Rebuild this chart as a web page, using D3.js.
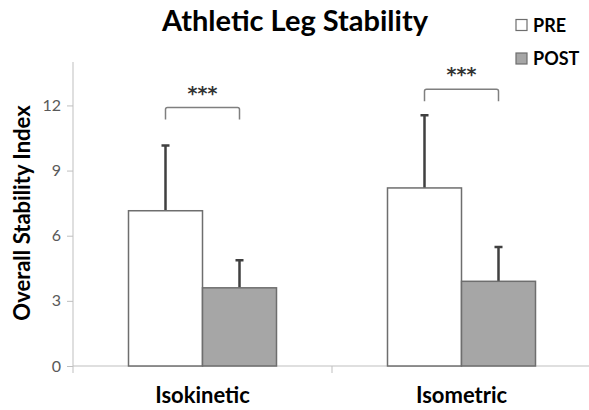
<!DOCTYPE html>
<html>
<head>
<meta charset="utf-8">
<script src="https://cdn.jsdelivr.net/npm/d3@7"></script>
<style>
  body { margin: 0; background: #fff; }
  text { font-family: Lato, "Open Sans", sans-serif; }
</style>
</head>
<body>
<div id="chart"></div>
<script>
// values
const categories = ["Isokinetic", "Isometric"];
const groups = ["PRE", "POST"];
const preMeans = [7.15, 8.2];
const preErr = [3.0, 3.35];
const postMeans = [3.6, 3.9];
const postErr = [1.27, 1.58];
const bracketLevels = [11.9, 12.75];
const yTicks = [0, 3, 6, 9, 12];

function render_chart(placement) {
    var margin = {top: 62, right: -2, bottom: 44, left: 73},
        width = 589 - margin.left - margin.right,
        height = 410 - margin.top - margin.bottom;

    const data = categories.map((c, i) => ({
        category: c,
        values: [
            {group: "PRE", mean: preMeans[i], err: preErr[i]},
            {group: "POST", mean: postMeans[i], err: postErr[i]}
        ],
        bracket: bracketLevels[i]
    }));

    var x0 = d3.scaleBand()
        .domain(categories)
        .range([0, width])
        .paddingInner(0)
        .paddingOuter(0);

    var x1 = d3.scaleBand()
        .domain(groups)
        .range([0, x0.bandwidth()])
        .paddingInner(0)
        .paddingOuter(0.75);

    var yScale = d3.scaleLinear()
        .domain([0, 14])
        .range([height, 0]);

    const color = d3.scaleOrdinal()
        .domain(groups)
        .range(["#ffffff", "#a6a6a6"]);

    var svg = d3.select(placement).append("svg")
        .attr("width", 589)
        .attr("height", 410);

    // title
    svg.append("text")
        .attr("x", 295)
        .attr("y", 31)
        .attr("text-anchor", "middle")
        .style("font-size", "29px")
        .style("font-weight", "bold")
        .attr("fill", "#000")
        .text("Athletic Leg Stability");

    var g = svg.append("g")
        .attr("transform", "translate(" + margin.left + "," + margin.top + ")");

    // y axis
    var yAxis = d3.axisLeft(yScale)
        .tickValues(yTicks)
        .tickSize(6)
        .tickPadding(6);

    const yg = g.append("g").call(yAxis);
    yg.select(".domain").attr("stroke", "#bfbfbf").attr("d", "M0,0V" + (height + 7));
    yg.selectAll(".tick line").attr("stroke", "#bfbfbf");
    yg.selectAll(".tick text")
        .attr("fill", "#595959")
        .style("font-size", "16px")
        .style("font-family", "Lato, sans-serif");

    // x axis
    var xAxis = d3.axisBottom(x0)
        .tickSize(0)
        .tickPadding(21);

    const xg = g.append("g")
        .attr("transform", "translate(0," + height + ")")
        .call(xAxis);
    xg.select(".domain").attr("stroke", "#bfbfbf").attr("d", "M0,0H" + (width + 2));
    xg.selectAll(".tick text")
        .attr("fill", "#000")
        .style("font-size", "22px")
        .style("font-weight", "bold")
        .style("font-family", "Lato, sans-serif");

    // category boundary ticks
    g.selectAll(".bound")
        .data(categories.slice(1))
        .join("line")
        .attr("x1", d => x0(d))
        .attr("x2", d => x0(d))
        .attr("y1", height)
        .attr("y2", height + 7)
        .attr("stroke", "#bfbfbf");

    // y label
    svg.append("text")
        .attr("transform", "translate(30," + 213 + ") rotate(-90)")
        .attr("text-anchor", "middle")
        .style("font-size", "22px")
        .style("font-weight", "bold")
        .attr("fill", "#000")
        .text("Overall Stability Index");

    const cat = g.selectAll(".cat")
        .data(data)
        .join("g")
        .attr("transform", d => "translate(" + x0(d.category) + ",0)");

    // error bars (upper only)
    cat.selectAll(".err")
        .data(d => d.values)
        .join("path")
        .attr("fill", "none")
        .attr("stroke", "#404040")
        .attr("stroke-width", 2.5)
        .attr("d", d => {
            const cx = x1(d.group) + x1.bandwidth() / 2;
            const top = yScale(d.mean + d.err);
            return `M${cx},${yScale(d.mean)}V${top}M${cx - 4},${top}H${cx + 4}`;
        });

    cat.selectAll("rect")
        .data(d => d.values)
        .join("rect")
        .attr("x", d => x1(d.group))
        .attr("y", d => yScale(d.mean))
        .attr("width", x1.bandwidth())
        .attr("height", d => height - yScale(d.mean))
        .attr("fill", d => color(d.group))
        .attr("stroke", "#6e6e6e")
        .attr("stroke-width", 1.5);

    // significance brackets
    cat.append("path")
        .attr("fill", "none")
        .attr("stroke", "#7f7f7f")
        .attr("stroke-width", 1.5)
        .attr("d", d => {
            const a = x1("PRE") + x1.bandwidth() / 2;
            const b = x1("POST") + x1.bandwidth() / 2;
            const y = yScale(d.bracket);
            return `M${a},${y + 12}V${y + 2}Q${a},${y} ${a + 2},${y}H${b - 2}Q${b},${y} ${b},${y + 2}V${y + 12}`;
        });

    cat.append("text")
        .attr("x", x0.bandwidth() / 2)
        .attr("y", d => yScale(d.bracket) - 8)
        .attr("text-anchor", "middle")
        .attr("fill", "#333333")
        .style("font-size", "19px")
        .style("font-weight", "bold")
        .style("font-family", "'DejaVu Sans', sans-serif")
        .text("***");

    // legend
    const legend = svg.selectAll(".legend")
        .data(groups)
        .join("g")
        .attr("transform", (d, i) => "translate(516," + (19.5 + i * 33.5) + ")");

    legend.append("rect")
        .attr("width", 11)
        .attr("height", 11)
        .attr("fill", d => color(d))
        .attr("stroke", "#6e6e6e")
        .attr("stroke-width", 1.2);

    legend.append("text")
        .attr("x", 17)
        .attr("y", 12)
        .style("font-size", "18px")
        .style("font-weight", "bold")
        .attr("fill", "#000")
        .text(d => d);
}

render_chart("#chart");
</script>
</body>
</html>
